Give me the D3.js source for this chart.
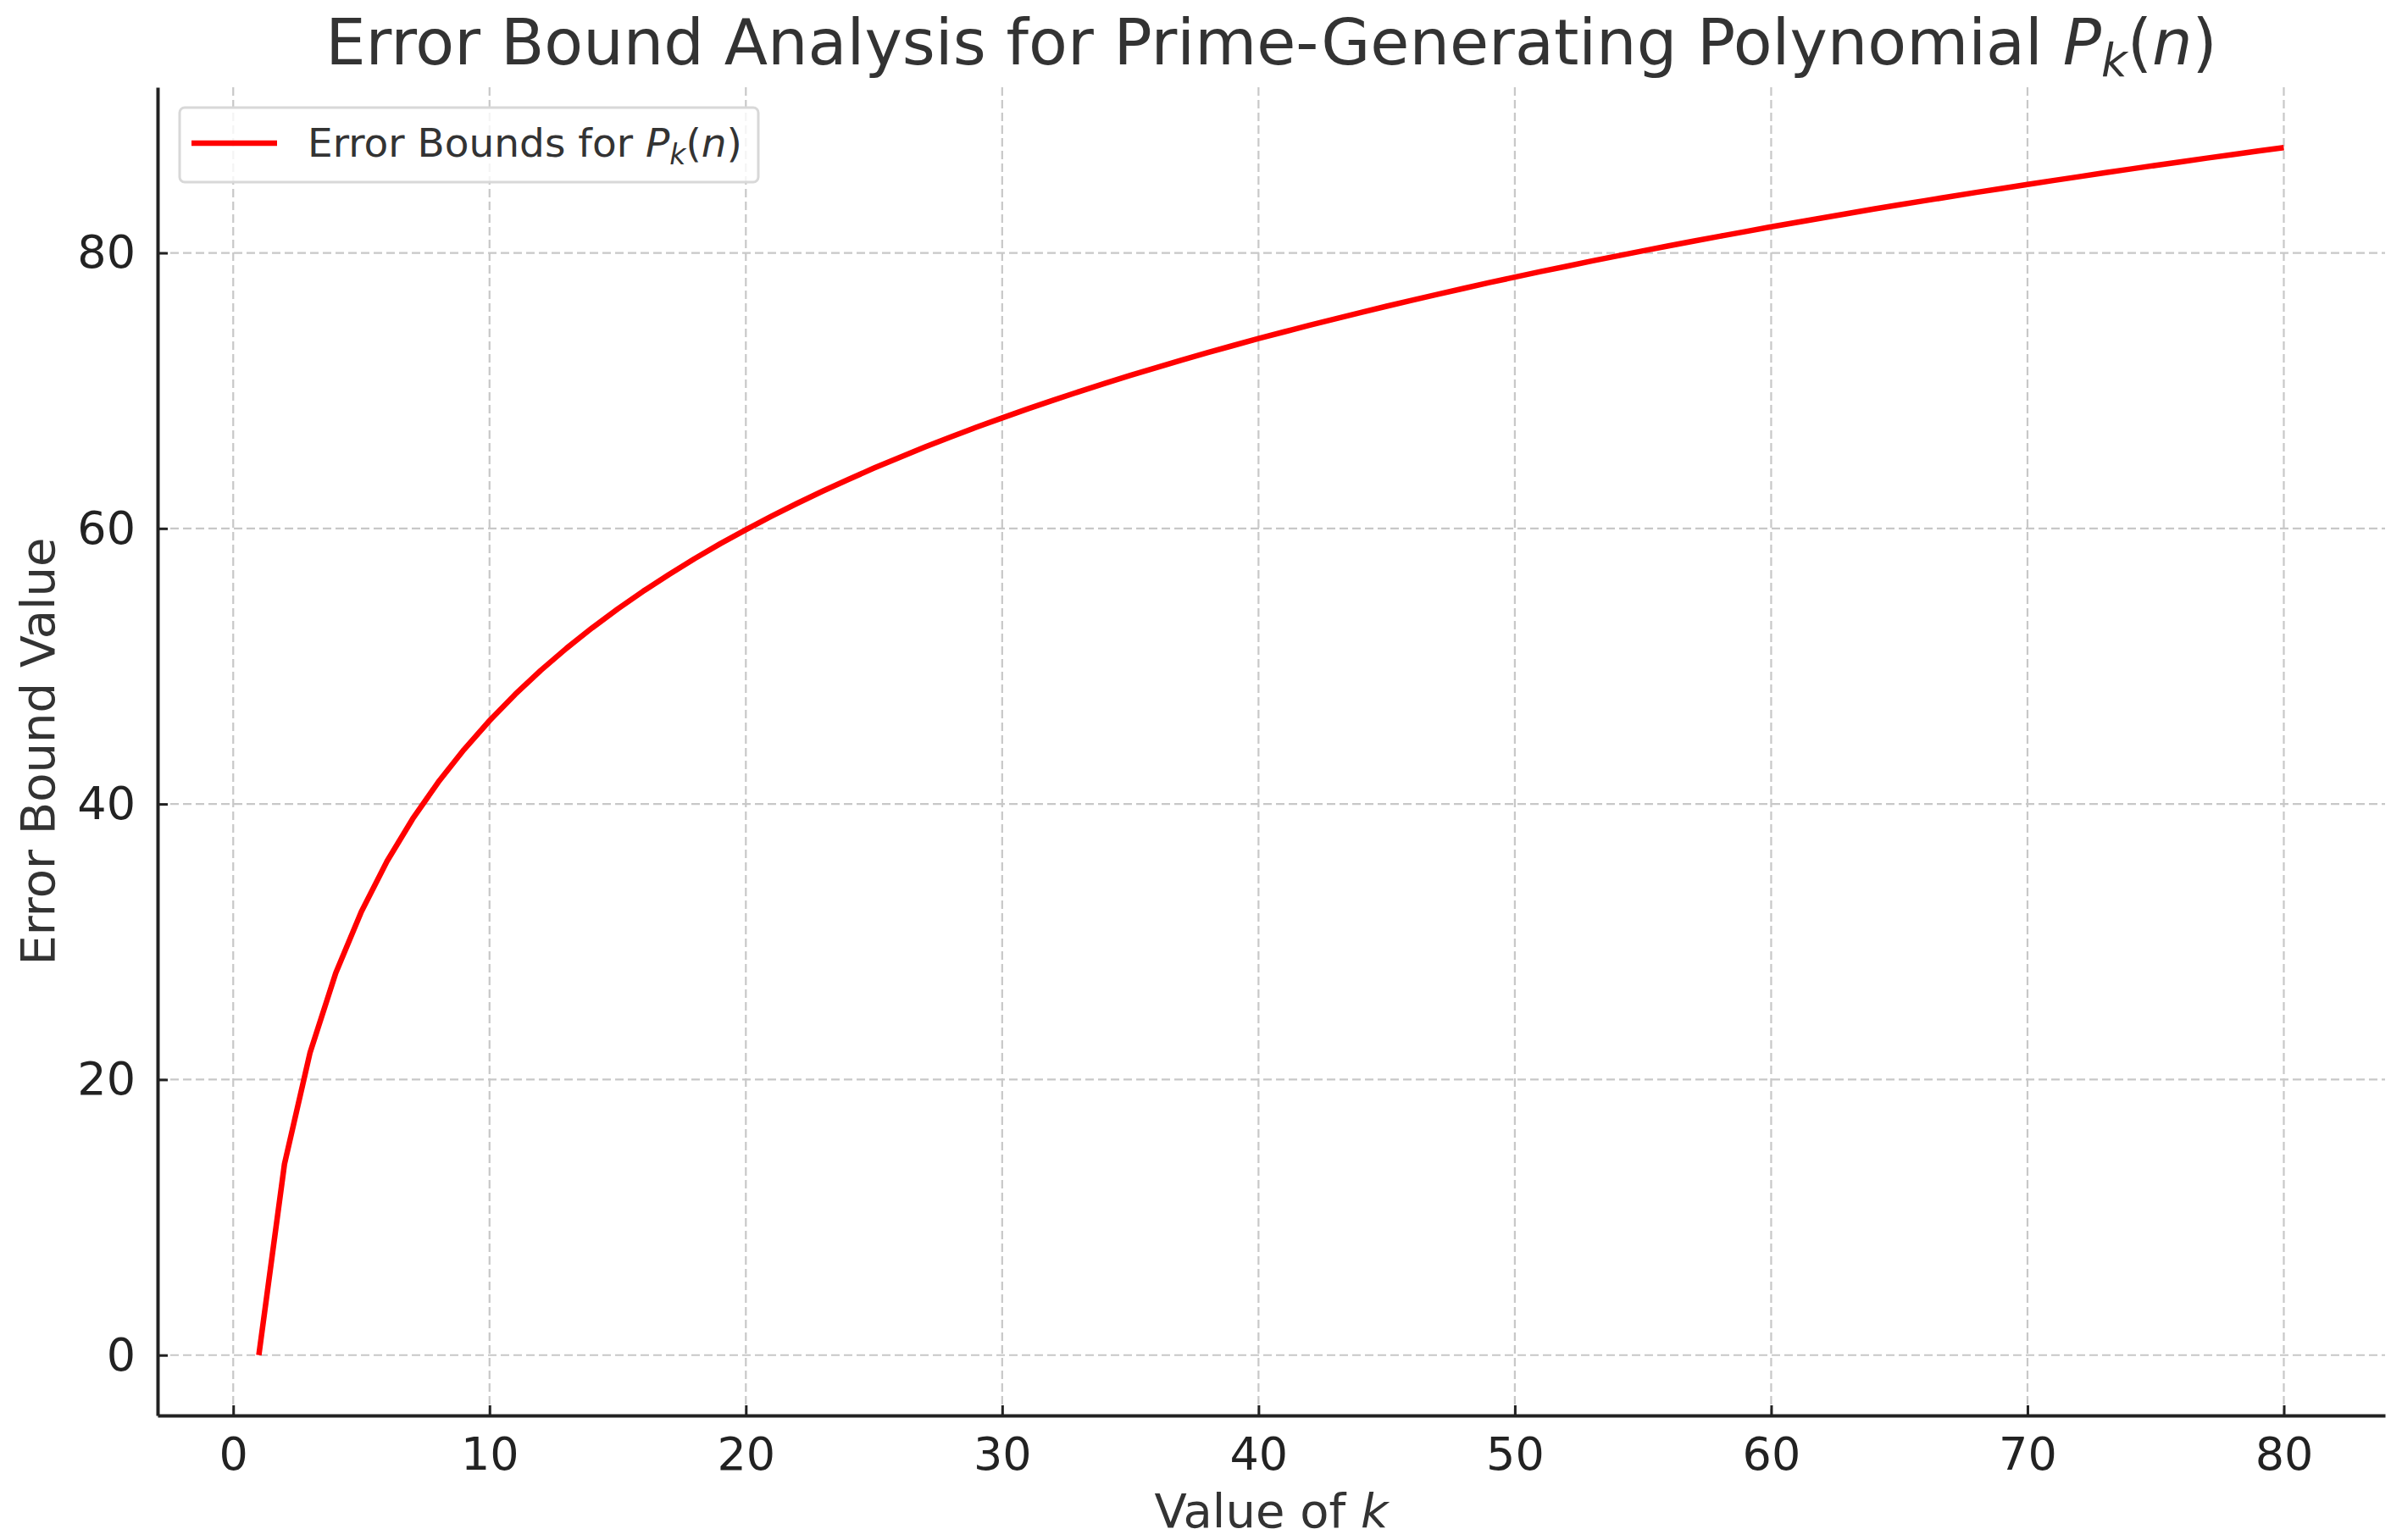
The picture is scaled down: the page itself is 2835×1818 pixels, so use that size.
<!DOCTYPE html>
<html>
<head>
<meta charset="utf-8">
<script src="https://cdn.jsdelivr.net/npm/d3@7"></script>
<style>
  body { margin: 0; background: #fff; }
  text { font-family: "DejaVu Sans", sans-serif; }
</style>
</head>
<body>
<div id="chart"></div>
<script>
// values of k and the error bound
var kValues = [1, 2, 3, 4, 5, 6, 7, 8, 9, 10, 11, 12, 13, 14, 15, 16, 17, 18, 19, 20,
  21, 22, 23, 24, 25, 26, 27, 28, 29, 30, 31, 32, 33, 34, 35, 36, 37, 38, 39, 40,
  41, 42, 43, 44, 45, 46, 47, 48, 49, 50, 51, 52, 53, 54, 55, 56, 57, 58, 59, 60,
  61, 62, 63, 64, 65, 66, 67, 68, 69, 70, 71, 72, 73, 74, 75, 76, 77, 78, 79, 80];
var boundValues = [0, 13.86, 21.97, 27.73, 32.19, 35.84, 38.92, 41.59, 43.94, 46.05,
  47.96, 49.70, 51.30, 52.78, 54.16, 55.45, 56.66, 57.81, 58.89, 59.91,
  60.89, 61.82, 62.71, 63.56, 64.38, 65.16, 65.92, 66.64, 67.35, 68.02,
  68.68, 69.31, 69.93, 70.53, 71.11, 71.67, 72.22, 72.75, 73.27, 73.78,
  74.27, 74.75, 75.22, 75.68, 76.13, 76.57, 77.00, 77.42, 77.84, 78.24,
  78.64, 79.02, 79.41, 79.78, 80.15, 80.51, 80.86, 81.21, 81.55, 81.89,
  82.22, 82.54, 82.86, 83.18, 83.49, 83.79, 84.09, 84.39, 84.68, 84.97,
  85.25, 85.53, 85.81, 86.08, 86.35, 86.61, 86.88, 87.13, 87.39, 87.64];
var xTicks = [0, 10, 20, 30, 40, 50, 60, 70, 80];
var yTicks = [0, 20, 40, 60, 80];

var width = 2835, height = 1818;
var margin = {left: 186, right: 20, top: 103, bottom: 147};

var data = kValues.map(function(k, i) { return {k: k, v: boundValues[i]}; });

var svg = d3.select("#chart").append("svg")
  .attr("width", width)
  .attr("height", height);

// matplotlib style 5% padding round the data
var xPad = (d3.max(kValues) - d3.min(kValues)) * 0.05;
var yPad = (d3.max(boundValues) - d3.min(boundValues)) * 0.05;

var x = d3.scaleLinear()
  .domain([d3.min(kValues) - xPad, d3.max(kValues) + xPad])
  .range([margin.left, width - margin.right]);

var y = d3.scaleLinear()
  .domain([d3.min(boundValues) - yPad, d3.max(boundValues) + yPad])
  .range([height - margin.bottom, margin.top]);

// grid
svg.append("g").selectAll("line")
  .data(xTicks).enter()
  .append("line")
  .attr("x1", function(d) { return x(d); })
  .attr("x2", function(d) { return x(d); })
  .attr("y1", margin.top)
  .attr("y2", height - margin.bottom)
  .attr("stroke", "#c8c8c8")
  .attr("stroke-width", 2.2)
  .attr("stroke-dasharray", "10,5");

svg.append("g").selectAll("line")
  .data(yTicks).enter()
  .append("line")
  .attr("x1", margin.left)
  .attr("x2", width - margin.right)
  .attr("y1", function(d) { return y(d); })
  .attr("y2", function(d) { return y(d); })
  .attr("stroke", "#c8c8c8")
  .attr("stroke-width", 2.2)
  .attr("stroke-dasharray", "10,5");

// axes
var xAxis = d3.axisBottom(x).tickValues(xTicks).tickSizeInner(-12).tickSizeOuter(0).tickPadding(26);
var yAxis = d3.axisLeft(y).tickValues(yTicks).tickSizeInner(-12).tickSizeOuter(0).tickPadding(26);

var gx = svg.append("g")
  .attr("transform", "translate(0," + (height - margin.bottom) + ")")
  .call(xAxis);
gx.select(".domain").attr("stroke", "#222").attr("stroke-width", 4);
gx.selectAll(".tick line").attr("stroke", "#222").attr("stroke-width", 3);
gx.selectAll(".tick text")
  .attr("font-size", 54)
  .attr("font-family", "DejaVu Sans")
  .attr("fill", "#222")
  .attr("dy", "0.71em");

var gy = svg.append("g")
  .attr("transform", "translate(" + margin.left + ",0)")
  .call(yAxis);
gy.select(".domain").attr("stroke", "#222").attr("stroke-width", 4);
gy.selectAll(".tick line").attr("stroke", "#222").attr("stroke-width", 3);
gy.selectAll(".tick text")
  .attr("font-size", 54)
  .attr("font-family", "DejaVu Sans")
  .attr("fill", "#222");

// the curve
var line = d3.line()
  .x(function(d) { return x(d.k); })
  .y(function(d) { return y(d.v); });

svg.append("path")
  .datum(data)
  .attr("d", line)
  .attr("fill", "none")
  .attr("stroke", "#ff0000")
  .attr("stroke-width", 6.5)
  .attr("stroke-linejoin", "round");

// title
var title = svg.append("text")
  .attr("x", (margin.left + width - margin.right) / 2)
  .attr("y", 76)
  .attr("text-anchor", "middle")
  .attr("font-size", 75)
  .attr("fill", "#333");
title.append("tspan").text("Error Bound Analysis for Prime-Generating Polynomial ");
title.append("tspan").attr("font-style", "italic").text("P");
title.append("tspan").attr("font-style", "italic").attr("font-size", 53).attr("dy", 14).text("k");
title.append("tspan").attr("dy", -14).text("(");
title.append("tspan").attr("font-style", "italic").text("n");
title.append("tspan").text(")");

// axis labels
var xl = svg.append("text")
  .attr("x", (margin.left + width - margin.right) / 2)
  .attr("y", 1803)
  .attr("text-anchor", "middle")
  .attr("font-size", 56)
  .attr("fill", "#333");
xl.append("tspan").text("Value of ");
xl.append("tspan").attr("font-style", "italic").text("k");

svg.append("text")
  .attr("transform", "translate(64," + ((margin.top + height - margin.bottom) / 2) + ") rotate(-90)")
  .attr("text-anchor", "middle")
  .attr("font-size", 56)
  .attr("fill", "#333")
  .text("Error Bound Value");

// legend
var legend = svg.append("g");
legend.append("rect")
  .attr("x", 212)
  .attr("y", 127)
  .attr("width", 683)
  .attr("height", 88)
  .attr("rx", 6)
  .attr("fill", "#fff")
  .attr("fill-opacity", 0.8)
  .attr("stroke", "#d8d8d8")
  .attr("stroke-width", 3);
legend.append("line")
  .attr("x1", 226).attr("x2", 327)
  .attr("y1", 169).attr("y2", 169)
  .attr("stroke", "#ff0000")
  .attr("stroke-width", 6.5);
var lt = legend.append("text")
  .attr("x", 363)
  .attr("y", 185)
  .attr("font-size", 47)
  .attr("fill", "#333");
lt.append("tspan").text("Error Bounds for ");
lt.append("tspan").attr("font-style", "italic").text("P");
lt.append("tspan").attr("font-style", "italic").attr("font-size", 33).attr("dy", 9).text("k");
lt.append("tspan").attr("dy", -9).text("(");
lt.append("tspan").attr("font-style", "italic").text("n");
lt.append("tspan").text(")");
</script>
</body>
</html>
